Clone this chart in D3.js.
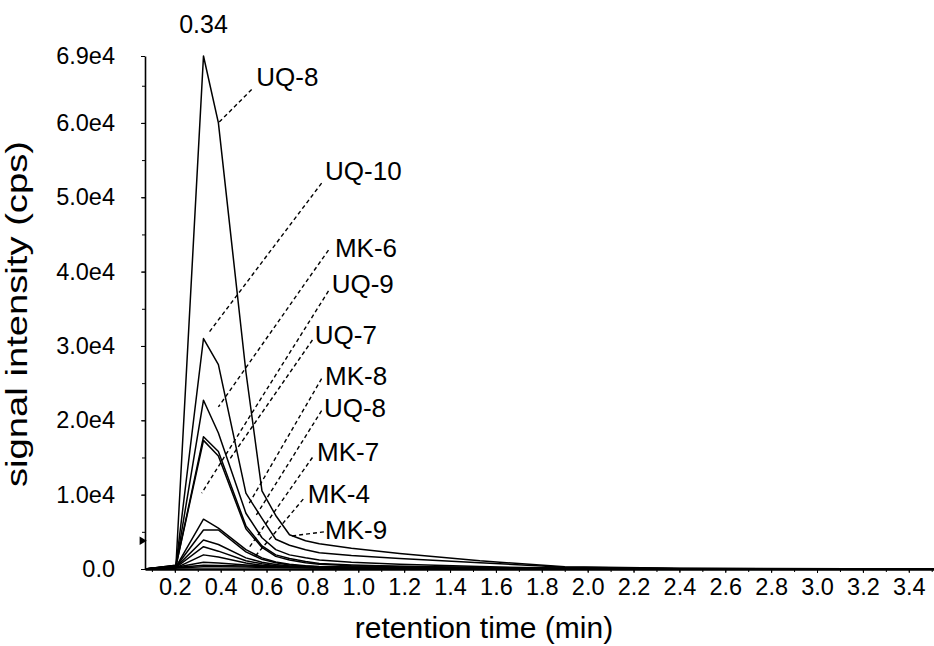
<!DOCTYPE html>
<html>
<head>
<meta charset="utf-8">
<script src="https://cdn.jsdelivr.net/npm/d3@7"></script>
<style>
  body { margin: 0; background: #fff; }
  svg text { font-family: "Liberation Sans", Arial, sans-serif; fill: #000; }
</style>
</head>
<body>
<svg id="chart" width="934" height="646"></svg>
<script>
// retention times (min) of the sampled points
const times = [0.07, 0.205, 0.325, 0.39, 0.51, 0.58, 0.64, 0.70, 0.77, 0.83, 0.97, 1.18, 1.53, 1.9, 2.4, 3.51];

// signal intensity (cps) per compound
const uq8Main = [0, 500, 69000, 60000, 26500, 10500, 7200, 4600, 3800, 3400, 2800, 2100, 1100, 300, 100, 0];
const uq10 = [0, 500, 31000, 27500, 10200, 6800, 4000, 3200, 2600, 2200, 1800, 1400, 850, 250, 60, 0];
const mk6 = [0, 450, 22700, 18300, 7500, 4200, 2600, 1900, 1500, 1200, 900, 650, 320, 100, 20, 0];
const uq9 = [0, 400, 17800, 15800, 5800, 3100, 1900, 1400, 1000, 750, 550, 380, 200, 60, 10, 0];
const uq7 = [0, 400, 17300, 15200, 5400, 2900, 1700, 1200, 850, 650, 450, 320, 160, 50, 10, 0];
const mk8 = [0, 300, 6700, 5500, 2600, 1500, 950, 650, 450, 330, 220, 160, 80, 30, 5, 0];
const uq8Minor = [0, 300, 5250, 5250, 2300, 1300, 850, 550, 380, 270, 190, 130, 60, 20, 5, 0];
const mk7 = [0, 250, 3900, 3300, 1500, 900, 600, 420, 300, 220, 150, 100, 50, 20, 5, 0];
const mk4 = [0, 200, 3000, 2400, 1100, 700, 450, 320, 220, 160, 110, 80, 40, 10, 0, 0];
const mk9 = [0, 150, 1900, 1600, 800, 500, 330, 240, 170, 120, 80, 50, 25, 5, 0, 0];
const traceA = [0, 250, 900, 800, 550, 450, 400, 350, 320, 300, 280, 250, 180, 90, 30, 0];
const traceB = [0, 200, 500, 480, 400, 350, 320, 300, 280, 260, 240, 220, 160, 80, 20, 0];
const traceC = [0, 150, 300, 300, 260, 240, 220, 200, 190, 180, 170, 160, 130, 70, 15, 0];

const seriesNames = ["UQ-8", "UQ-10", "MK-6", "UQ-9", "UQ-7", "MK-8", "UQ-8", "MK-7", "MK-4", "MK-9"];
const seriesValues = [uq8Main, uq10, mk6, uq9, uq7, mk8, uq8Minor, mk7, mk4, mk9, traceA, traceB, traceC];

const xTicks = d3.range(2, 35, 2).map((d) => d / 10);
const xMinorTicks = d3.range(1, 36).map((d) => d / 10);
const yTicks = [0, 10000, 20000, 30000, 40000, 50000, 60000, 69000];
const yTickLabels = ["0.0", "1.0e4", "2.0e4", "3.0e4", "4.0e4", "5.0e4", "6.0e4", "6.9e4"];
const yMinorTicks = d3.range(5000, 69000, 5000);

const peakTime = 0.34;

// annotation labels: text anchor [time, value], leader start and end [time, value]
const labelText = [
  [0.555, 64900], [0.855, 52300], [0.898, 42000], [0.884, 37100], [0.81, 30200],
  [0.855, 24700], [0.85, 20400], [0.82, 14500], [0.78, 8900], [0.855, 4100]
];
const leaderStart = [
  [0.535, 64500], [0.84, 51900], [0.87, 42900], [0.87, 37400], [0.80, 30800],
  [0.84, 25600], [0.84, 21300], [0.80, 15000], [0.76, 9400], [0.85, 5000]
];
const leaderEnd = [
  [0.39, 60000], [0.346, 31700], [0.39, 21800], [0.317, 10200], [0.44, 14800],
  [0.52, 8600], [0.55, 7000], [0.52, 2700], [0.55, 1700], [0.70, 4400]
];

const width = 934;
const height = 646;
const margin = { top: 56, right: 0, bottom: 77, left: 145 };

const svg = d3.select("#chart");

const x = d3.scaleLinear().domain([0.07, 3.51]).range([margin.left, width - margin.right]);
const y = d3.scaleLinear().domain([0, 69000]).range([height - margin.bottom, margin.top]);

// minor ticks
svg.append("g")
  .attr("transform", `translate(${margin.left},0)`)
  .call(d3.axisLeft(y).tickValues(yMinorTicks).tickSize(3).tickFormat(""))
  .call((g) => g.select(".domain").remove());

svg.append("g")
  .attr("transform", `translate(0,${height - margin.bottom})`)
  .call(d3.axisBottom(x).tickValues(xMinorTicks).tickSize(3).tickFormat(""))
  .call((g) => g.select(".domain").remove());

// y axis
const yAxis = svg.append("g")
  .attr("transform", `translate(${margin.left},0)`)
  .call(d3.axisLeft(y).tickValues(yTicks).tickSize(4).tickPadding(26)
    .tickFormat((d, i) => yTickLabels[i]).tickSizeOuter(0));
yAxis.selectAll("text").style("font-size", "23.5px");
yAxis.select(".domain").attr("stroke-width", 1.6);

// x axis
const xAxis = svg.append("g")
  .attr("transform", `translate(0,${height - margin.bottom})`)
  .call(d3.axisBottom(x).tickValues(xTicks).tickSize(4).tickPadding(5)
    .tickFormat(d3.format(".1f")).tickSizeOuter(0));
xAxis.selectAll("text").style("font-size", "23.5px");
xAxis.select(".domain").attr("stroke-width", 2.5);

// little threshold marker on the y axis
svg.append("path")
  .attr("d", d3.symbol(d3.symbolTriangle, 30))
  .attr("transform", `translate(${margin.left - 3},${y(3800)}) rotate(90)`)
  .attr("fill", "#000");

// curves
const line = d3.line()
  .x((d, i) => x(times[i]))
  .y((d) => y(d));

svg.append("g")
  .selectAll("path")
  .data(seriesValues)
  .join("path")
  .attr("d", line)
  .attr("fill", "none")
  .attr("stroke", "#000")
  .attr("stroke-width", 1.5)
  .attr("stroke-linejoin", "round");

// leader lines
svg.append("g")
  .selectAll("line")
  .data(seriesNames)
  .join("line")
  .attr("x1", (d, i) => x(leaderStart[i][0]))
  .attr("y1", (d, i) => y(leaderStart[i][1]))
  .attr("x2", (d, i) => x(leaderEnd[i][0]))
  .attr("y2", (d, i) => y(leaderEnd[i][1]))
  .attr("stroke", "#000")
  .attr("stroke-width", 1.4)
  .attr("stroke-dasharray", "4,3");

svg.append("g")
  .selectAll("text")
  .data(seriesNames)
  .join("text")
  .attr("x", (d, i) => x(labelText[i][0]))
  .attr("y", (d, i) => y(labelText[i][1]))
  .style("font-size", "26px")
  .text((d) => d);

// peak time
svg.append("text")
  .attr("x", x(0.325))
  .attr("y", 33)
  .attr("text-anchor", "middle")
  .style("font-size", "25px")
  .text(peakTime.toFixed(2));

// axis titles
svg.append("text")
  .attr("x", 484)
  .attr("y", 638)
  .attr("text-anchor", "middle")
  .style("font-size", "30px")
  .text("retention time (min)");

svg.append("text")
  .attr("transform", `translate(27,314) rotate(-90)`)
  .attr("text-anchor", "middle")
  .attr("textLength", 346)
  .attr("lengthAdjust", "spacingAndGlyphs")
  .style("font-size", "30px")
  .text("signal intensity (cps)");
</script>
</body>
</html>
